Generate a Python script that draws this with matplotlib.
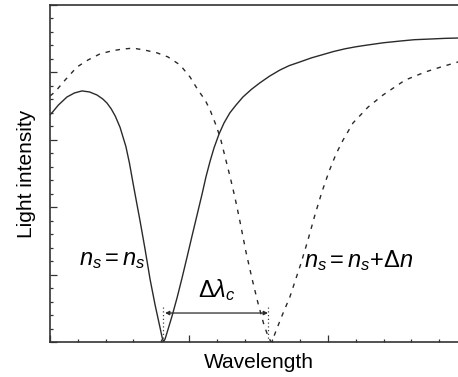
import matplotlib
matplotlib.use("Agg")
import matplotlib.pyplot as plt
from matplotlib.ticker import MultipleLocator

plt.rcParams["font.family"] = ["Liberation Sans", "DejaVu Sans"]
plt.rcParams["mathtext.fontset"] = "custom"
plt.rcParams["mathtext.rm"] = "Liberation Sans"
plt.rcParams["mathtext.it"] = "Liberation Sans:italic"

# resonance curve for the reference index n_s
wl_ref = [0.00, 0.11, 0.30, 0.61, 0.88, 1.15, 1.42, 1.69, 1.90, 2.05,
          2.20, 2.35, 2.52, 2.73, 2.86, 2.99, 3.12, 3.24, 3.42, 3.60,
          3.78, 3.96, 4.03, 4.08, 4.14, 4.24, 4.39, 4.57, 4.75, 4.93,
          5.11, 5.29, 5.47, 5.61, 5.76, 5.90, 6.08, 6.26, 6.47, 6.69,
          6.94, 7.25, 7.55, 7.90, 8.27, 8.60, 8.99, 9.40, 9.78, 10.20,
          10.61, 11.00, 11.40, 12.00, 12.59, 13.10, 13.67, 14.20, 14.68, 15.00]
int_ref = [0.674, 0.684, 0.703, 0.727, 0.739, 0.745, 0.742, 0.733, 0.721, 0.709,
           0.692, 0.670, 0.637, 0.580, 0.530, 0.470, 0.412, 0.359, 0.275, 0.186,
           0.110, 0.042, 0.015, 0.000, 0.009, 0.036, 0.077, 0.131, 0.190, 0.252,
           0.315, 0.377, 0.439, 0.490, 0.537, 0.576, 0.617, 0.650, 0.680, 0.703,
           0.727, 0.750, 0.769, 0.789, 0.807, 0.820, 0.831, 0.843, 0.852, 0.862,
           0.870, 0.876, 0.881, 0.888, 0.893, 0.897, 0.899, 0.901, 0.902, 0.904]

# resonance curve after the index shift n_s + dn
wl_shift = [0.00, 0.18, 0.54, 0.97, 1.37, 1.80, 2.23, 2.59, 2.99, 3.42,
            3.85, 4.24, 4.68, 5.04, 5.32, 5.58, 5.76, 5.94, 6.12, 6.29,
            6.47, 6.65, 6.83, 7.05, 7.27, 7.48, 7.70, 7.84, 7.95, 8.06,
            8.31, 8.63, 9.03, 9.28, 9.53, 9.78, 10.04, 10.29, 10.54, 10.90,
            11.44, 11.98, 12.77, 13.49, 14.06, 14.68, 15.00]
int_shift = [0.730, 0.742, 0.777, 0.816, 0.837, 0.855, 0.864, 0.869, 0.872, 0.866,
             0.858, 0.846, 0.822, 0.786, 0.748, 0.718, 0.688, 0.650, 0.608, 0.552,
             0.493, 0.430, 0.359, 0.267, 0.187, 0.116, 0.050, 0.018, 0.000, 0.018,
             0.071, 0.134, 0.234, 0.303, 0.377, 0.445, 0.507, 0.558, 0.599, 0.650,
             0.697, 0.733, 0.777, 0.801, 0.816, 0.831, 0.840]

# dip positions and the shift arrow
dip_ref, dip_shift = 4.06, 7.84
marker_top = 0.11
arrow_y = 0.086

fig = plt.figure(figsize=(4.58, 3.77), dpi=100)
ax = fig.add_axes([50 / 458, 35 / 377, 417 / 458, 337 / 377])

ax.plot(wl_ref, int_ref, color="#2a2a2a", lw=1.0)
ax.plot(wl_shift, int_shift, color="#2a2a2a", lw=1.0, linestyle=(0, (3.2, 4.2)))

for xd in (dip_ref, dip_shift):
    ax.plot([xd, xd], [0, marker_top], color="#444444", lw=0.9,
            linestyle=(0, (1, 2)))

ax.annotate("", xy=(dip_shift, arrow_y), xytext=(dip_ref + 0.08, arrow_y),
            arrowprops=dict(arrowstyle="<|-|>", color="#2a2a2a", lw=0.9,
                            mutation_scale=6, shrinkA=0, shrinkB=0))

ax.text(6.0, 0.115, r"$\Delta\lambda_c$", ha="center", va="bottom", fontsize=17)
ax.text(1.05, 0.228, r"$n_s = n_s$", ha="left", va="baseline", fontsize=17)
ax.text(9.15, 0.222, r"$n_s = n_s$+$\Delta n$", ha="left", va="baseline", fontsize=17)

ax.set_xlim(0, 15)
ax.set_ylim(0, 1)
ax.xaxis.set_major_locator(MultipleLocator(5))
ax.xaxis.set_minor_locator(MultipleLocator(1))
ax.yaxis.set_major_locator(MultipleLocator(0.2))
ax.yaxis.set_minor_locator(MultipleLocator(0.04))
ax.tick_params(which="both", direction="in", labelbottom=False, labelleft=False,
               color="#333333", width=0.9)
ax.tick_params(which="major", length=5)
ax.tick_params(which="minor", length=2.5)
ax.spines["right"].set_visible(False)
for side in ("left", "bottom", "top"):
    ax.spines[side].set_linewidth(1.2)
    ax.spines[side].set_color("#333333")

ax.set_xlabel("Wavelength", fontsize=15, labelpad=8)
ax.set_ylabel("Light intensity", fontsize=15, labelpad=10)

fig.savefig("out.png", dpi=100)
